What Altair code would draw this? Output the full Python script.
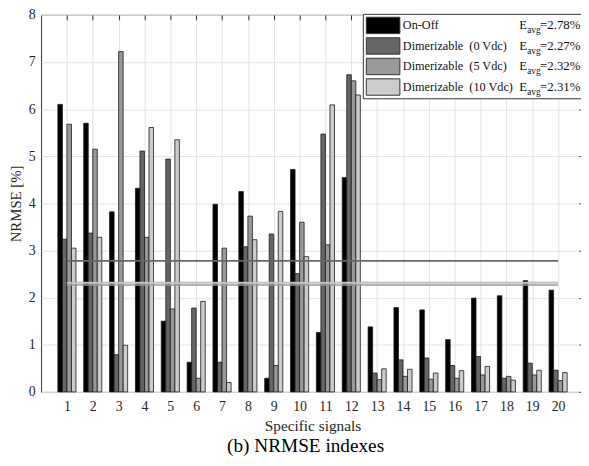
import altair as alt
import pandas as pd

# ---------------- data ----------------
signals = list(range(1, 21))
series_names = ["On-Off", "Dimerizable (0 Vdc)", "Dimerizable (5 Vdc)", "Dimerizable (10 Vdc)"]
legend_labels = ["On-Off", "Dimerizable\u00a0 (0 Vdc)", "Dimerizable\u00a0 (5 Vdc)", "Dimerizable\u00a0 (10 Vdc)"]
on_off = [6.10, 5.70, 3.82, 4.32, 1.50, 0.63, 3.98, 4.25, 0.29, 4.72,
          1.26, 4.55, 1.38, 1.79, 1.74, 1.11, 1.99, 2.04, 2.36, 2.16]
dim_0 = [3.24, 3.37, 0.79, 5.11, 4.94, 1.78, 0.63, 3.08, 3.35, 2.51,
         5.47, 6.73, 0.40, 0.68, 0.72, 0.56, 0.75, 0.29, 0.61, 0.46]
dim_5 = [5.68, 5.15, 7.22, 3.28, 1.76, 0.29, 3.05, 3.73, 0.56, 3.60,
         3.12, 6.60, 0.26, 0.33, 0.27, 0.29, 0.36, 0.33, 0.36, 0.24]
dim_10 = [3.05, 3.28, 0.99, 5.61, 5.35, 1.92, 0.20, 3.23, 3.83, 2.87,
          6.09, 6.30, 0.49, 0.48, 0.40, 0.45, 0.54, 0.25, 0.46, 0.41]
e_avg = [2.78, 2.27, 2.32, 2.31]
e_avg_text = ["=2.78%", "=2.27%", "=2.32%", "=2.31%"]

# ---------------- styles ----------------
bar_colors = ["#000000", "#666666", "#999999", "#cccccc"]
line_colors = ["#666666", "#9a9a9a", "#a8a8a8", "#cccccc"]
FONT = "'Liberation Serif', 'Times New Roman', Times, serif"
W, H = 550, 382

rows = []
for name, vals in zip(series_names, [on_off, dim_0, dim_5, dim_10]):
    for s, v in zip(signals, vals):
        rows.append({"signal": s, "series": name, "value": v})
df = pd.DataFrame(rows)

avg_df = pd.DataFrame({
    "series": series_names,
    "avg": e_avg,
    "x_start": [signals[0]] * 4,
    "x_end": [signals[-1]] * 4,
    "order": [0, 3, 1, 2],
})
avg_df = avg_df.sort_values("order")

leg_df = pd.DataFrame({
    "series": series_names,
    "label": legend_labels,
    "etext": e_avg_text,
    "row": [0, 1, 2, 3],
})

ydom = alt.Scale(domain=[0, 8], nice=False, zero=True)
xq = alt.Scale(domain=[0, 21], nice=False, zero=False)

bars = alt.Chart(df).mark_bar(stroke="#1a1a1a", strokeWidth=0.8).encode(
    x=alt.X("signal:O", axis=None,
            scale=alt.Scale(paddingInner=0.3, paddingOuter=0.65)),
    xOffset=alt.XOffset("series:N", sort=series_names,
                        scale=alt.Scale(paddingInner=0, paddingOuter=0)),
    y=alt.Y("value:Q", scale=ydom, axis=None),
    color=alt.Color("series:N", sort=series_names,
                    scale=alt.Scale(domain=series_names, range=bar_colors),
                    legend=None),
)

lines = alt.Chart(avg_df).mark_rule(strokeWidth=1.6).encode(
    x=alt.X("x_start:Q", scale=xq,
            axis=alt.Axis(values=signals, grid=True, gridColor="#e3e3e3",
                          tickSize=0, domain=False, labelFont=FONT,
                          labelFontSize=14, labelColor="#262626",
                          labelPadding=8, title="Specific signals",
                          titleFont=FONT, titleFontSize=15.5,
                          titleFontWeight="normal", titleColor="#262626",
                          titlePadding=5)),
    x2="x_end:Q",
    y=alt.Y("avg:Q", scale=ydom,
            axis=alt.Axis(values=list(range(0, 9)), grid=True,
                          gridColor="#e3e3e3", tickSize=0, domain=False,
                          labelFont=FONT, labelFontSize=14,
                          labelColor="#262626", labelPadding=6,
                          title="NRMSE [%]", titleFont=FONT,
                          titleFontSize=15, titleFontWeight="normal",
                          titleColor="#262626", titlePadding=5)),
    color=alt.Color("series:N", scale=alt.Scale(domain=series_names,
                                                range=line_colors),
                    legend=None),
)

ticks = alt.Chart(avg_df).mark_point(opacity=0).encode(
    x=alt.X("x_start:Q", scale=xq,
            axis=alt.Axis(orient="top", values=signals, offset=-5,
                          tickSize=5, tickColor="#333333", domain=False,
                          labels=False, grid=False, title=None)),
    y=alt.Y("avg:Q", scale=ydom,
            axis=alt.Axis(orient="right", values=list(range(0, 9)),
                          offset=-5, tickSize=5, tickColor="#333333",
                          domain=False, labels=False, grid=False,
                          title=None)),
)

# ---------------- manual legend ----------------
legend_layers = []
box = alt.Chart(leg_df).transform_filter(alt.datum.row == 0).mark_rect(
    fill="white", stroke="#333333", strokeWidth=1).encode(
    x=alt.value(326.5), x2=alt.value(W + 2), y=alt.value(-0.5), y2=alt.value(85))
legend_layers.append(box)
for i in range(4):
    yc = 10.7 + i * 20.8
    sub = alt.Chart(leg_df).transform_filter(alt.datum.row == i)
    legend_layers.append(sub.mark_rect(stroke="#333333", strokeWidth=1,
                                       fill=bar_colors[i]).encode(
        x=alt.value(329.5), x2=alt.value(363.5),
        y=alt.value(yc - 8.3), y2=alt.value(yc + 8.3)))
    legend_layers.append(sub.mark_text(font=FONT, fontSize=12.4, align="left",
                                       baseline="middle", color="#111111").encode(
        x=alt.value(366.5), y=alt.value(yc), text="label:N"))
    legend_layers.append(sub.mark_text(font=FONT, fontSize=13, align="left",
                                       baseline="middle", color="#111111",
                                       text="E").encode(
        x=alt.value(484.5), y=alt.value(yc)))
    legend_layers.append(sub.mark_text(font=FONT, fontSize=9.5, align="left",
                                       baseline="middle", color="#111111",
                                       text="avg").encode(
        x=alt.value(492.5), y=alt.value(yc + 5)))
    legend_layers.append(sub.mark_text(font=FONT, fontSize=13, align="left",
                                       baseline="middle", color="#111111").encode(
        x=alt.value(505.5), y=alt.value(yc), text="etext:N"))

chart = alt.layer(bars, lines, ticks, *legend_layers).resolve_scale(
    x="independent", y="shared", color="independent"
).resolve_axis(
    x="independent", y="independent"
).properties(
    width=W, height=H,
    autosize=alt.AutoSizeParams(type="none"),
    padding={"left": 33.5, "top": 4, "right": -3, "bottom": 64},
    title=alt.TitleParams("(b) NRMSE indexes", orient="bottom", anchor="middle",
                          font=FONT, fontSize=19.5, fontWeight="normal",
                          color="#000000", dx=-7, offset=3),
).configure_view(stroke="#333333", strokeWidth=1)

chart.save("out.html", embed_options={"renderer": "svg", "actions": False})
